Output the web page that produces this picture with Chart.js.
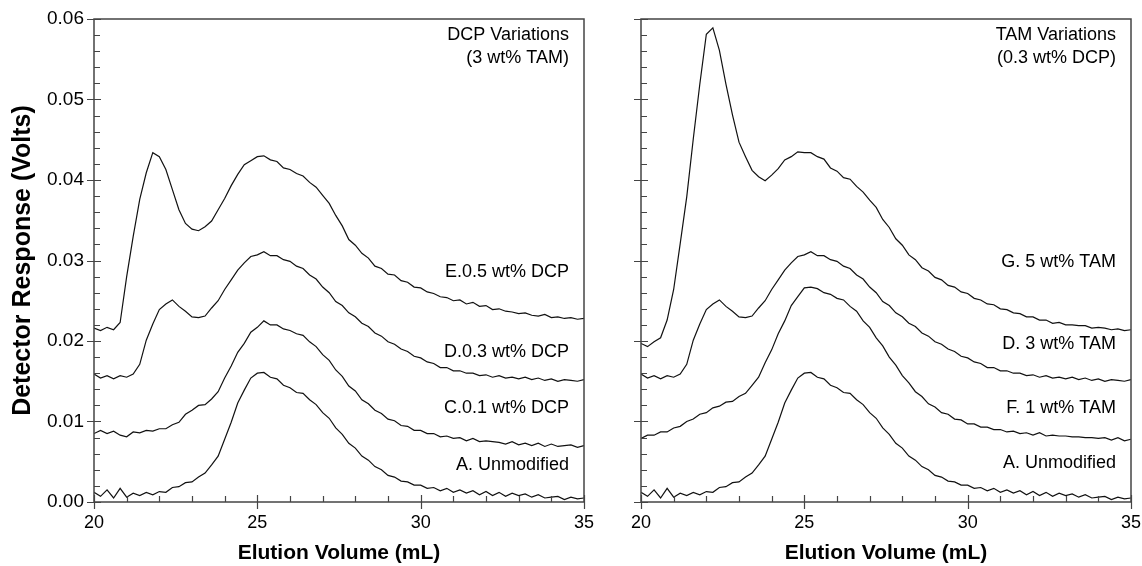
<!DOCTYPE html>
<html>
<head>
<meta charset="utf-8">
<script src="https://cdn.jsdelivr.net/npm/chart.js@4.4.1/dist/chart.umd.min.js"></script>
<style>
  html, body { margin: 0; padding: 0; background: #fff; }
  #wrap { position: relative; width: 1142px; height: 566px; }
  canvas { position: absolute; top: 0; }
  #left { left: 0; }
  #right { left: 600px; }
</style>
</head>
<body>
<div id="wrap">
  <canvas id="left" width="600" height="566"></canvas>
  <canvas id="right" width="542" height="566"></canvas>
</div>
<script>
// elution volume (mL), shared by every trace
const elution = [
  20.0, 20.2, 20.4, 20.6, 20.8, 21.0, 21.2, 21.4, 21.6, 21.8,
  22.0, 22.2, 22.4, 22.6, 22.8, 23.0, 23.2, 23.4, 23.6, 23.8,
  24.0, 24.2, 24.4, 24.6, 24.8, 25.0, 25.2, 25.4, 25.6, 25.8,
  26.0, 26.2, 26.4, 26.6, 26.8, 27.0, 27.2, 27.4, 27.6, 27.8,
  28.0, 28.2, 28.4, 28.6, 28.8, 29.0, 29.2, 29.4, 29.6, 29.8,
  30.0, 30.2, 30.4, 30.6, 30.8, 31.0, 31.2, 31.4, 31.6, 31.8,
  32.0, 32.2, 32.4, 32.6, 32.8, 33.0, 33.2, 33.4, 33.6, 33.8,
  34.0, 34.2, 34.4, 34.6, 34.8, 35.0
];

// E. 0.5 wt% DCP
const sampleE = [
  0.0216, 0.0213, 0.0217, 0.0214, 0.0223, 0.0280, 0.0330, 0.0376, 0.0409, 0.0434,
  0.0429, 0.0413, 0.0388, 0.0363, 0.0346, 0.0339, 0.0337, 0.0342, 0.0349, 0.0363,
  0.0377, 0.0393, 0.0407, 0.0419, 0.0424, 0.0429, 0.0430, 0.0425, 0.0423, 0.0415,
  0.0413, 0.0408, 0.0405, 0.0397, 0.0391, 0.0381, 0.0371, 0.0356, 0.0343, 0.0326,
  0.0319, 0.0309, 0.0303, 0.0293, 0.0290, 0.0283, 0.0282, 0.0275, 0.0273, 0.0267,
  0.0266, 0.0261, 0.0259, 0.0255, 0.0254, 0.0250, 0.0251, 0.0246, 0.0248, 0.0243,
  0.0244, 0.0239, 0.0240, 0.0237, 0.0236, 0.0234, 0.0235, 0.0232, 0.0231, 0.0233,
  0.0229, 0.0230, 0.0228, 0.0229, 0.0227, 0.0228
];

// D. 0.3 wt% DCP / 3 wt% TAM (same sample in both panels)
const sampleD = [
  0.0159, 0.0154, 0.0157, 0.0153, 0.0157, 0.0155, 0.0159, 0.0171, 0.0201, 0.0221,
  0.0239, 0.0246, 0.0251, 0.0243, 0.0237, 0.0230, 0.0229, 0.0231, 0.0241, 0.0250,
  0.0264, 0.0276, 0.0288, 0.0297, 0.0305, 0.0307, 0.0311, 0.0306, 0.0306, 0.0301,
  0.0299, 0.0293, 0.0290, 0.0282, 0.0277, 0.0267, 0.0260, 0.0249, 0.0244, 0.0235,
  0.0230, 0.0222, 0.0218, 0.0210, 0.0206, 0.0199, 0.0196, 0.0190, 0.0187, 0.0181,
  0.0179, 0.0174, 0.0172, 0.0167, 0.0167, 0.0163, 0.0163, 0.0160, 0.0160, 0.0157,
  0.0158, 0.0155, 0.0157, 0.0154, 0.0155, 0.0153, 0.0155, 0.0152, 0.0154, 0.0151,
  0.0153, 0.0150, 0.0152, 0.0151, 0.0150, 0.0152
];

// C. 0.1 wt% DCP
const sampleC = [
  0.0085, 0.0089, 0.0085, 0.0088, 0.0083, 0.0081, 0.0087, 0.0086, 0.0089, 0.0088,
  0.0091, 0.0091, 0.0096, 0.0099, 0.0109, 0.0114, 0.0120, 0.0121, 0.0128, 0.0137,
  0.0154, 0.0169, 0.0186, 0.0197, 0.0211, 0.0217, 0.0225, 0.0220, 0.0220, 0.0215,
  0.0213, 0.0209, 0.0207, 0.0199, 0.0193, 0.0183, 0.0176, 0.0164, 0.0156, 0.0144,
  0.0138, 0.0127, 0.0122, 0.0114, 0.0110, 0.0103, 0.0101, 0.0095, 0.0094, 0.0089,
  0.0089, 0.0085, 0.0085, 0.0081, 0.0082, 0.0079, 0.0080, 0.0076, 0.0079, 0.0075,
  0.0076, 0.0075, 0.0074, 0.0072, 0.0075, 0.0071, 0.0073, 0.0070, 0.0073, 0.0069,
  0.0072, 0.0069, 0.0070, 0.0071, 0.0068, 0.0070
];

// A. Unmodified (same sample in both panels)
const sampleA = [
  0.0012, 0.0007, 0.0015, 0.0005, 0.0017, 0.0006, 0.0011, 0.0008, 0.0012, 0.0009,
  0.0013, 0.0012, 0.0018, 0.0019, 0.0024, 0.0025, 0.0031, 0.0036, 0.0046, 0.0057,
  0.0078, 0.0099, 0.0123, 0.0139, 0.0154, 0.0160, 0.0161, 0.0155, 0.0153, 0.0145,
  0.0142, 0.0136, 0.0135, 0.0127, 0.0121, 0.0111, 0.0104, 0.0092, 0.0084, 0.0073,
  0.0067, 0.0057, 0.0052, 0.0044, 0.0040, 0.0033, 0.0031, 0.0026, 0.0025, 0.0021,
  0.0021, 0.0017, 0.0018, 0.0014, 0.0017, 0.0012, 0.0015, 0.0011, 0.0014, 0.0009,
  0.0013, 0.0008, 0.0012, 0.0007, 0.0011, 0.0008, 0.0010, 0.0006, 0.0009, 0.0005,
  0.0006, 0.0007, 0.0003, 0.0006, 0.0004, 0.0005
];

// G. 5 wt% TAM
const sampleG = [
  0.0197, 0.0193, 0.0199, 0.0204, 0.0226, 0.0264, 0.0321, 0.0379, 0.0451, 0.0519,
  0.0581, 0.0589, 0.0561, 0.0519, 0.0481, 0.0447, 0.0429, 0.0412, 0.0404, 0.0399,
  0.0406, 0.0414, 0.0425, 0.0429, 0.0435, 0.0434, 0.0434, 0.0429, 0.0426, 0.0415,
  0.0411, 0.0403, 0.0401, 0.0392, 0.0385, 0.0375, 0.0366, 0.0351, 0.0341, 0.0327,
  0.0319, 0.0307, 0.0301, 0.0291, 0.0287, 0.0279, 0.0276, 0.0269, 0.0267, 0.0261,
  0.0259, 0.0253, 0.0251, 0.0246, 0.0245, 0.0240, 0.0239, 0.0235, 0.0234, 0.0230,
  0.0230, 0.0226, 0.0226, 0.0222, 0.0223, 0.0220, 0.0220, 0.0219, 0.0219, 0.0216,
  0.0217, 0.0216, 0.0214, 0.0215, 0.0213, 0.0214
];

// F. 1 wt% TAM
const sampleF = [
  0.0079, 0.0083, 0.0083, 0.0087, 0.0087, 0.0092, 0.0094, 0.0100, 0.0103, 0.0109,
  0.0111, 0.0117, 0.0119, 0.0124, 0.0125, 0.0131, 0.0135, 0.0145, 0.0155, 0.0173,
  0.0189, 0.0209, 0.0225, 0.0244, 0.0255, 0.0266, 0.0267, 0.0265, 0.0260, 0.0258,
  0.0253, 0.0251, 0.0243, 0.0237, 0.0225, 0.0217, 0.0204, 0.0194, 0.0180, 0.0170,
  0.0157, 0.0148, 0.0137, 0.0131, 0.0122, 0.0118, 0.0111, 0.0109, 0.0103, 0.0102,
  0.0097, 0.0097, 0.0093, 0.0093, 0.0090, 0.0090, 0.0087, 0.0088, 0.0085, 0.0086,
  0.0083, 0.0086, 0.0082, 0.0083, 0.0082, 0.0082, 0.0081, 0.0081, 0.0080, 0.0080,
  0.0079, 0.0080, 0.0077, 0.0080, 0.0076, 0.0078
];

const leftSeries = [sampleE, sampleD, sampleC, sampleA];
const rightSeries = [sampleG, sampleD, sampleF, sampleA];

const leftNotes = [
  { text: 'DCP Variations', y: 0.0580 },
  { text: '(3 wt% TAM)', y: 0.0552 },
  { text: 'E.0.5 wt% DCP', y: 0.0286 },
  { text: 'D.0.3 wt% DCP', y: 0.0186 },
  { text: 'C.0.1 wt% DCP', y: 0.0117 },
  { text: 'A. Unmodified', y: 0.0046 }
];
const rightNotes = [
  { text: 'TAM Variations', y: 0.0580 },
  { text: '(0.3 wt% DCP)', y: 0.0552 },
  { text: 'G. 5 wt% TAM', y: 0.0298 },
  { text: 'D. 3 wt% TAM', y: 0.0196 },
  { text: 'F. 1 wt% TAM', y: 0.0117 },
  { text: 'A. Unmodified', y: 0.0048 }
];

const FONT = "'Liberation Sans', Arial, Helvetica, sans-serif";

const toPoints = (ys) => ys.map((v, i) => ({ x: elution[i], y: v }));

// box frame, inward ticks and the text notes
const framePlugin = {
  id: 'frame',
  afterDraw(chart, args, opts) {
    const { ctx, chartArea: a, scales: { x, y } } = chart;
    ctx.save();
    ctx.strokeStyle = '#444';
    ctx.lineWidth = 1.5;
    ctx.strokeRect(a.left, a.top, a.right - a.left, a.bottom - a.top);

    ctx.lineWidth = 1.2;
    ctx.beginPath();
    for (let v = 20; v <= 35; v++) {
      const px = Math.round(x.getPixelForValue(v)) + 0.5;
      const major = v % 5 === 0;
      ctx.moveTo(px, a.bottom + (major ? 7 : 0));
      ctx.lineTo(px, a.bottom - (major ? 7 : 6));
    }
    for (let i = 0; i <= 30; i++) {
      const py = Math.round(y.getPixelForValue(i * 0.002)) + 0.5;
      const major = i % 5 === 0;
      ctx.moveTo(a.left - (major ? 7 : 0), py);
      ctx.lineTo(a.left + (major ? 7 : 6), py);
    }
    ctx.stroke();

    ctx.fillStyle = '#000';
    ctx.font = '18px ' + FONT;
    ctx.textAlign = 'right';
    ctx.textBaseline = 'middle';
    opts.notes.forEach(n => {
      ctx.fillText(n.text, a.right - 15, y.getPixelForValue(n.y));
    });
    ctx.restore();
  }
};

function makeChart(id, series, notes, showY, yWidth, padRight) {
  return new Chart(document.getElementById(id), {
    type: 'line',
    data: {
      datasets: series.map(s => ({
        data: toPoints(s),
        borderColor: '#111',
        borderWidth: 1.2,
        pointRadius: 0,
        tension: 0,
        fill: false
      }))
    },
    options: {
      responsive: false,
      animation: false,
      layout: { padding: { left: 0, right: padRight, top: 19, bottom: 0 } },
      plugins: {
        legend: { display: false },
        tooltip: { enabled: false },
        frame: { notes: notes }
      },
      scales: {
        x: {
          type: 'linear',
          min: 20,
          max: 35,
          grid: { display: false, drawTicks: false },
          border: { display: false },
          ticks: {
            stepSize: 5,
            padding: 10,
            color: '#000',
            font: { family: FONT, size: 18 }
          },
          title: {
            display: true,
            text: 'Elution Volume (mL)',
            color: '#000',
            font: { family: FONT, size: 21, weight: 'bold' },
            padding: { top: 2, bottom: 0 }
          },
          afterFit(scale) {
            scale.height = 64;
            scale.paddingLeft = 0;
            scale.paddingRight = 0;
          }
        },
        y: {
          display: showY,
          min: 0,
          max: 0.06,
          grid: { display: false, drawTicks: false },
          border: { display: false },
          ticks: {
            stepSize: 0.01,
            padding: 10,
            color: '#000',
            font: { family: FONT, size: 19 },
            callback: (v) => v.toFixed(2)
          },
          title: {
            display: true,
            text: 'Detector Response (Volts)',
            color: '#000',
            font: { family: FONT, size: 25, weight: 'bold' },
            padding: { top: 8, bottom: 0 }
          },
          afterFit(scale) {
            scale.width = yWidth;
            scale.paddingTop = 0;
            scale.paddingBottom = 0;
          }
        }
      }
    },
    plugins: [framePlugin]
  });
}

makeChart('left', leftSeries, leftNotes, true, 94, 16);
makeChart('right', rightSeries, rightNotes, false, 41, 11);
</script>
</body>
</html>
